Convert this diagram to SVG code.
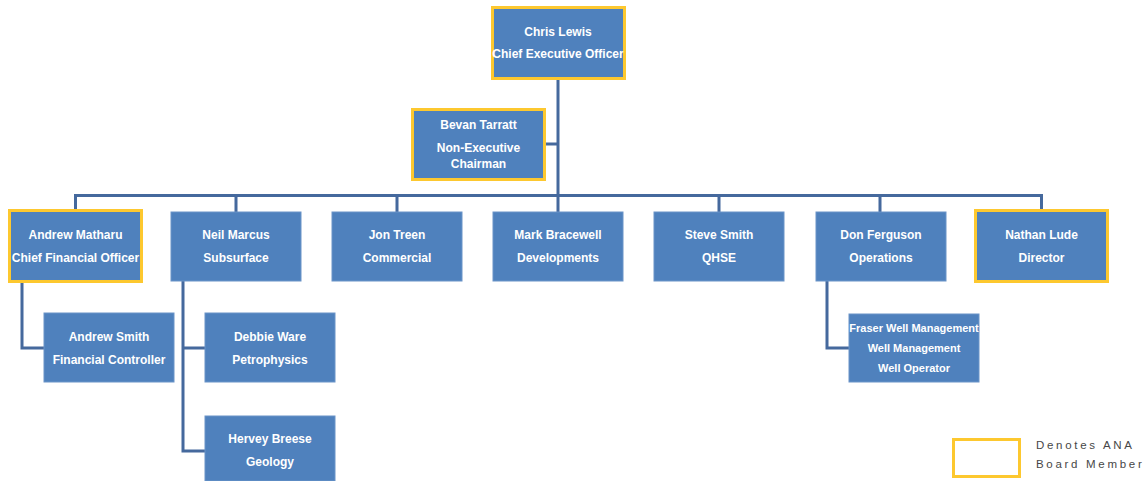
<svg xmlns="http://www.w3.org/2000/svg" width="1147" height="481" viewBox="0 0 1147 481">
<style>
.box{fill:#4f81bd;stroke:#6b94c8;stroke-width:1}
.board{fill:#4f81bd;stroke:#fdc82f;stroke-width:3}
.t{font-family:"Liberation Sans",Arial,sans-serif;font-weight:bold;font-size:12px;fill:#ffffff;text-anchor:middle}
.s{font-size:11px}
.c{fill:none;stroke:#45699d;stroke-width:3}
.leg{font-family:"Liberation Sans",Arial,sans-serif;font-size:11.5px;fill:#474747;letter-spacing:2.7px}
</style>
<rect width="1147" height="481" fill="#ffffff"/>
<g id="connectors">
<path class="c" d="M558,79 V196"/>
<path class="c" d="M546,144 H558"/>
<path class="c" d="M75.5,195.5 H1041.5"/>
<path class="c" d="M75.5,194 V210 M236,195 V212 M397,195 V212 M558,195 V212 M719,195 V212 M880,195 V212 M1041.5,194 V210"/>
<path class="c" d="M22,283 V348 H44"/>
<path class="c" d="M183,281 V451 H205 M183,348 H205"/>
<path class="c" d="M827,281 V348 H849"/>
</g>
<g id="ceo">
<rect class="board" x="492.5" y="7.5" width="132" height="71"/>
<text class="t" x="558" y="35.5">Chris Lewis</text>
<text class="t" x="558" y="57.5">Chief Executive Officer</text>
</g>
<g id="chairman">
<rect class="board" x="412.5" y="109.5" width="132" height="70"/>
<text class="t" x="478.5" y="128.5">Bevan Tarratt</text>
<text class="t" x="478.5" y="152">Non-Executive</text>
<text class="t" x="478.5" y="167.5">Chairman</text>
</g>
<g id="cfo">
<rect class="board" x="9.5" y="210.5" width="132" height="71"/>
<text class="t" x="75.5" y="238.5">Andrew Matharu</text>
<text class="t" x="75.5" y="261.5">Chief Financial Officer</text>
</g>
<g id="subsurface">
<rect class="box" x="171" y="212" width="130" height="69"/>
<text class="t" x="236" y="238.5">Neil Marcus</text>
<text class="t" x="236" y="261.5">Subsurface</text>
</g>
<g id="commercial">
<rect class="box" x="332" y="212" width="130" height="69"/>
<text class="t" x="397" y="238.5">Jon Treen</text>
<text class="t" x="397" y="261.5">Commercial</text>
</g>
<g id="developments">
<rect class="box" x="493" y="212" width="130" height="69"/>
<text class="t" x="558" y="238.5">Mark Bracewell</text>
<text class="t" x="558" y="261.5">Developments</text>
</g>
<g id="qhse">
<rect class="box" x="654" y="212" width="130" height="69"/>
<text class="t" x="719" y="238.5">Steve Smith</text>
<text class="t" x="719" y="261.5">QHSE</text>
</g>
<g id="operations">
<rect class="box" x="816" y="212" width="130" height="69"/>
<text class="t" x="881" y="238.5">Don Ferguson</text>
<text class="t" x="881" y="261.5">Operations</text>
</g>
<g id="director">
<rect class="board" x="975.5" y="210.5" width="132" height="71"/>
<text class="t" x="1041.5" y="238.5">Nathan Lude</text>
<text class="t" x="1041.5" y="261.5">Director</text>
</g>
<g id="fincontroller">
<rect class="box" x="44" y="313" width="130" height="69"/>
<text class="t" x="109" y="341">Andrew Smith</text>
<text class="t" x="109" y="363.5">Financial Controller</text>
</g>
<g id="petrophysics">
<rect class="box" x="205" y="313" width="130" height="69"/>
<text class="t" x="270" y="341">Debbie Ware</text>
<text class="t" x="270" y="363.5">Petrophysics</text>
</g>
<g id="geology">
<rect class="box" x="205" y="416" width="130" height="65"/>
<text class="t" x="270" y="442.5">Hervey Breese</text>
<text class="t" x="270" y="466">Geology</text>
</g>
<g id="wellmanagement">
<rect class="box" x="849" y="314" width="130" height="68"/>
<text class="t s" x="914" y="331.5">Fraser Well Management</text>
<text class="t s" x="914" y="351.5">Well Management</text>
<text class="t s" x="914" y="371.5">Well Operator</text>
</g>
<g id="legend">
<rect x="953.5" y="439.5" width="66" height="37" fill="#ffffff" stroke="#fdc82f" stroke-width="3"/>
<text class="leg" x="1036" y="449">Denotes ANA</text>
<text class="leg" x="1036" y="467.5">Board Member</text>
</g>
</svg>
